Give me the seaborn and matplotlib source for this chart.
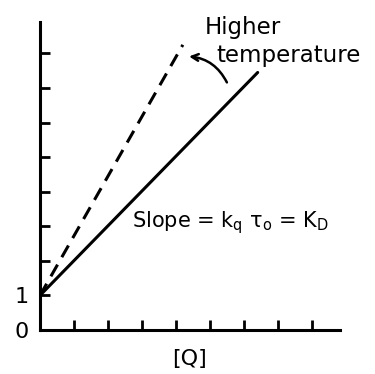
import matplotlib
matplotlib.use("Agg")
import matplotlib.pyplot as plt
import seaborn as sns
import pandas as pd

# data
q_solid = [0, 6.4]
y_solid = [1, 7.45]
q_dashed = [0, 4.2]
y_dashed = [1, 8.25]
x_ticks = [1, 2, 3, 4, 5, 6, 7, 8]
y_ticks = [0, 1, 2, 3, 4, 5, 6, 7, 8]
y_tick_labels = ["0", "1", "", "", "", "", "", "", ""]

sns.set_theme(style="ticks")
plt.rcParams['font.family'] = ['DejaVu Sans']
plt.rcParams['text.color'] = 'black'
plt.rcParams['ytick.labelcolor'] = 'black'
plt.rcParams['axes.labelcolor'] = 'black'

fig = plt.figure(figsize=(3.75, 3.74), dpi=100)
ax = fig.add_axes([40/375, 44/374, 300/375, 308/374])

df_s = pd.DataFrame({"q": q_solid, "y": y_solid})
df_d = pd.DataFrame({"q": q_dashed, "y": y_dashed})
sns.lineplot(data=df_s, x="q", y="y", ax=ax, color="black", lw=2.2)
sns.lineplot(data=df_d, x="q", y="y", ax=ax, color="black", lw=2.2)
ax.lines[-1].set_dashes((4.4, 2.8))

ax.set_xlim(0, 8.82)
ax.set_ylim(0, 8.91)
ax.set_xticks(x_ticks)
ax.set_xticklabels([])
ax.set_yticks(y_ticks)
ax.set_yticklabels(y_tick_labels, fontsize=16)
ax.tick_params(axis="both", direction="in", length=7.5, width=2, color="black")
ax.tick_params(axis="y", pad=8)
for s in ["top", "right"]:
    ax.spines[s].set_visible(False)
for s in ["left", "bottom"]:
    ax.spines[s].set_linewidth(2.2)
    ax.spines[s].set_color("black")
ax.set_xlabel("[Q]", fontsize=16, labelpad=10)
ax.set_ylabel("")

ax.text(4.84, 8.76, "Higher", fontsize=16.5, ha="left", va="center")
ax.text(5.18, 7.93, "temperature", fontsize=16.5, ha="left", va="center")
ax.text(2.7, 3.1, "Slope = k$_\\mathrm{q}$ τ$_\\mathrm{o}$ = K$_\\mathrm{D}$",
        fontsize=15, ha="left", va="center")
ax.annotate("", xy=(4.3, 7.92), xytext=(5.53, 7.09),
            arrowprops=dict(arrowstyle="->", color="black", lw=1.8,
                            connectionstyle="arc3,rad=0.3"))

fig.savefig("out.png", dpi=100)
